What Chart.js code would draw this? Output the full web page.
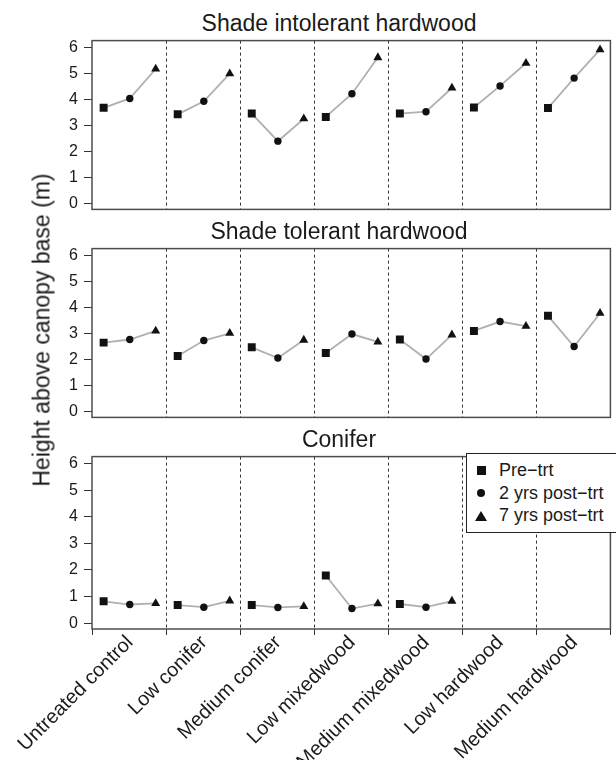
<!DOCTYPE html>
<html>
<head>
<meta charset="utf-8">
<script src="https://cdn.jsdelivr.net/npm/chart.js@4.4.1/dist/chart.umd.min.js"></script>
<style>
  html, body { margin: 0; padding: 0; background: #fff; }
  body { width: 616px; height: 760px; position: relative; overflow: hidden;
         font-family: 'Liberation Sans', Arial, sans-serif; color: #1a1a1a; }
  canvas { position: absolute; left: 0; }
  .ptitle { position: absolute; left: 339px; transform: translateX(-50%);
            font-size: 23px; line-height: 23px; white-space: nowrap; }
  #ytitle { position: absolute; left: 42px; top: 330px; white-space: nowrap;
            transform: translate(-50%, -50%) rotate(-90deg);
            font-size: 23px; line-height: 23px; }
  #legend { position: absolute; left: 466px; top: 453px; width: 160px; height: 80px;
            box-sizing: border-box; border: 1px solid #222; background: #fff;
            padding-top: 5px; font-size: 18px; }
  .row { position: relative; height: 22.7px; line-height: 22.7px; padding-left: 32px; white-space: nowrap; }
  .mk { position: absolute; }
  .sq { width: 9px; height: 9px; background: #111; left: 9.5px; top: 6.9px; }
  .ci { width: 8.5px; height: 8.5px; border-radius: 50%; background: #111; left: 9.7px; top: 7.1px; }
  .tr { width: 0; height: 0; border-left: 6px solid transparent; border-right: 6px solid transparent;
        border-bottom: 10px solid #111; left: 8px; top: 6.3px; }
</style>
</head>
<body>
<div class="ptitle" style="top:12px">Shade intolerant hardwood</div>
<canvas id="c1" width="616" height="200" style="top:25px"></canvas>
<div class="ptitle" style="top:220px">Shade tolerant hardwood</div>
<canvas id="c2" width="616" height="200" style="top:233px"></canvas>
<div class="ptitle" style="top:428px">Conifer</div>
<canvas id="c3" width="616" height="319" style="top:441px"></canvas>
<div id="ytitle">Height above canopy base (m)</div>
<div id="legend">
  <div class="row"><span class="mk sq"></span>Pre−trt</div>
  <div class="row"><span class="mk ci"></span>2 yrs post−trt</div>
  <div class="row"><span class="mk tr"></span>7 yrs post−trt</div>
</div>
<script>
// Categorías (tratamientos) y marcas del eje y
const groups = ['Untreated control', 'Low conifer', 'Medium conifer', 'Low mixedwood',
                'Medium mixedwood', 'Low hardwood', 'Medium hardwood'];
const yTicks = [0, 1, 2, 3, 4, 5, 6];

// Shade intolerant hardwood
const intolerantPre   = [3.68, 3.43, 3.46, 3.33, 3.46, 3.69, 3.67];
const intolerant2yr   = [4.04, 3.93, 2.40, 4.22, 3.53, 4.52, 4.82];
const intolerant7yr   = [5.17, 4.99, 3.26, 5.61, 4.44, 5.39, 5.91];

// Shade tolerant hardwood
const tolerantPre     = [2.65, 2.14, 2.47, 2.25, 2.77, 3.10, 3.68];
const tolerant2yr     = [2.77, 2.73, 2.06, 2.98, 2.02, 3.46, 2.50];
const tolerant7yr     = [3.10, 3.01, 2.75, 2.68, 2.95, 3.28, 3.78];

// Conifer (sin datos en los tratamientos de frondosas)
const coniferPre      = [0.82, 0.68, 0.68, 1.79, 0.72, null, null];
const conifer2yr      = [0.70, 0.60, 0.59, 0.55, 0.60, null, null];
const conifer7yr      = [0.74, 0.84, 0.63, 0.73, 0.83, null, null];

// Estilo de las marcas
const OFFSETS = [0.157, 0.51, 0.86];
const STYLES = ['rect', 'circle', 'triangle'];
const RADII = [5.6, 3.7, 5.2];
const FONT = "'Liberation Sans', Arial, sans-serif";

// Un dataset por grupo, para que la línea gris solo una sus tres puntos
function groupDatasets(pre, post2, post7) {
    return groups.map((g, i) => {
        const vals = [pre[i], post2[i], post7[i]];
        const pts = [], styles = [], radii = [];
        vals.forEach((v, k) => {
            if (v === null) return;
            pts.push({ x: i + OFFSETS[k], y: v });
            styles.push(STYLES[k]);
            radii.push(RADII[k]);
        });
        return {
            label: g,
            data: pts,
            showLine: true,
            borderColor: '#b0b0b0',
            borderWidth: 1.8,
            pointStyle: styles,
            pointRadius: radii,
            pointHoverRadius: radii,
            pointBackgroundColor: '#111',
            pointBorderWidth: 0
        };
    });
}

// Marco de cada panel
const frame = {
    id: 'frame',
    afterDatasetsDraw(chart) {
        const a = chart.chartArea;
        const c = chart.ctx;
        c.save();
        c.strokeStyle = '#4d4d4d';
        c.lineWidth = 1.5;
        c.strokeRect(a.left, a.top, a.right - a.left, a.bottom - a.top);
        c.restore();
    }
};

function makeChart(id, datasets, withLabels) {
    return new Chart(document.getElementById(id), {
        type: 'scatter',
        data: { datasets: datasets },
        options: {
            responsive: false,
            animation: false,
            devicePixelRatio: 1,
            layout: { padding: { top: 12, left: 0, right: 1, bottom: 0 } },
            plugins: { legend: { display: false }, tooltip: { enabled: false } },
            scales: {
                x: {
                    type: 'linear', min: 0, max: 7,
                    ticks: {
                        stepSize: 1, display: withLabels, autoSkip: false,
                        minRotation: 45, maxRotation: 45,
                        labelOffset: 38, padding: -4,
                        font: { size: 20, family: FONT }, color: '#1a1a1a',
                        callback: v => groups[v] ?? ''
                    },
                    grid: {
                        color: ctx => (ctx.tick && (ctx.tick.value === 0 || ctx.tick.value === 7)) ? 'rgba(0,0,0,0)' : '#333',
                        lineWidth: 1,
                        drawTicks: withLabels,
                        tickLength: 6,
                        tickColor: '#333'
                    },
                    border: { display: false, dash: [3, 3] },
                    afterFit: s => { s.height = withLabels ? 131 : 12; s.paddingLeft = 0; s.paddingRight = 0; }
                },
                y: {
                    min: -0.22, max: 6.26,
                    afterBuildTicks: s => { s.ticks = yTicks.map(v => ({ value: v })); },
                    ticks: { font: { size: 16, family: FONT }, color: '#1a1a1a', padding: 6 },
                    grid: { drawOnChartArea: false, tickLength: 8, color: '#333' },
                    border: { display: false },
                    afterFit: s => { s.width = 92; }
                }
            }
        },
        plugins: [frame]
    });
}

makeChart('c1', groupDatasets(intolerantPre, intolerant2yr, intolerant7yr), false);
makeChart('c2', groupDatasets(tolerantPre, tolerant2yr, tolerant7yr), false);
makeChart('c3', groupDatasets(coniferPre, conifer2yr, conifer7yr), true);
</script>
</body>
</html>
